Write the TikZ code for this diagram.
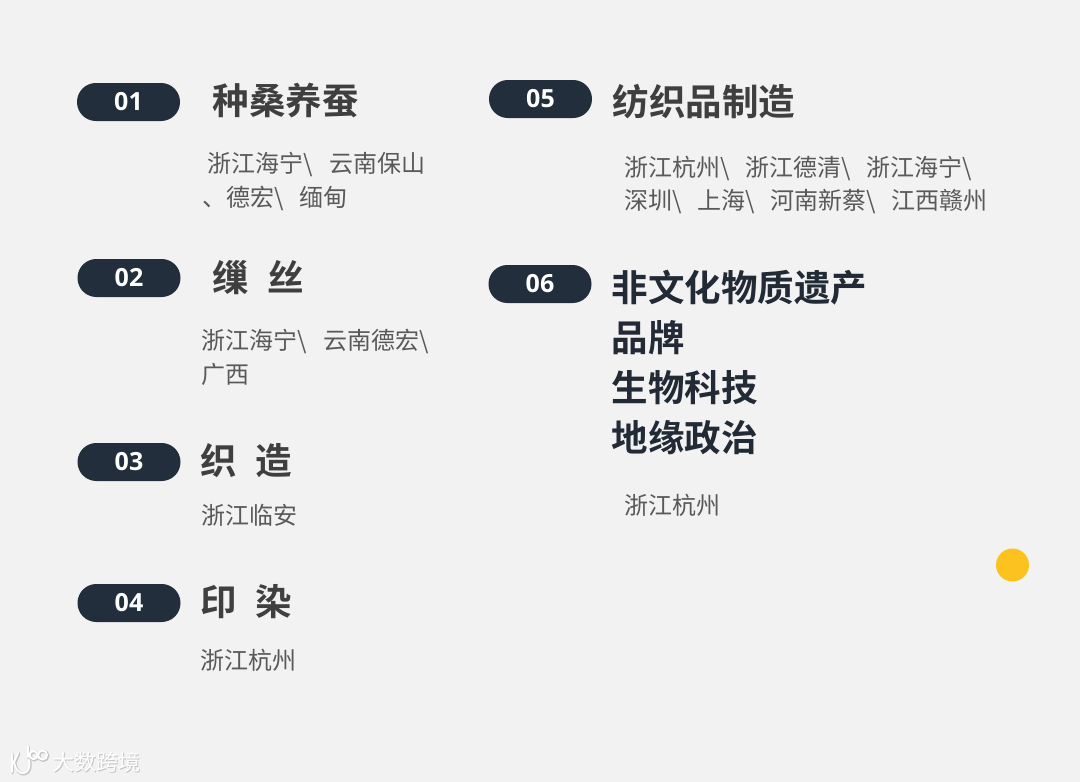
\documentclass[tikz,border=0pt]{standalone}
\usepackage{fontspec}
\setmainfont{Noto Sans CJK SC}
\newfontfamily\cjkb{Noto Sans CJK SC Bold}
\newfontfamily\numf{Open Sans Bold}
\definecolor{bgc}{HTML}{F2F2F2}
\definecolor{pillc}{HTML}{222E3B}
\definecolor{headc}{HTML}{3F3F3F}
\definecolor{headd}{HTML}{222A35}
\definecolor{bodyc}{HTML}{595959}
\definecolor{dotc}{HTML}{FCC31E}
\definecolor{wmshadow}{HTML}{C4C4C4}
\newcommand{\bs}{\textbackslash\hspace{0.66em}}
\newcommand{\bsw}{\textbackslash\hspace{0.72em}}
\tikzset{
 pill/.style={fill=pillc,rounded corners=18.9pt,minimum width=103pt,minimum height=38pt,text=white,font=\numf\fontsize{25pt}{25pt}\selectfont,inner sep=0pt},
 head/.style={anchor=west,text=headc,inner sep=0pt,font=\cjkb\fontsize{36.5pt}{36.5pt}\selectfont},
 headdark/.style={anchor=west,text=headd,inner sep=0pt,font=\cjkb\fontsize{36.5pt}{36.5pt}\selectfont},
 body/.style={anchor=west,text=bodyc,inner sep=0pt,font=\fontsize{24pt}{24pt}\selectfont},
 wmtext/.style={anchor=west,inner sep=0pt,font=\fontsize{22pt}{22pt}\selectfont},
}
\begin{document}
\begin{tikzpicture}[x=1pt,y=-1pt]
\useasboundingbox (0,0) rectangle (1080,782);
\fill[bgc] (0,0) rectangle (1080,782);
\node[pill] (p1) at (128.5,102) {01};
\node[pill] (p2) at (129,278) {02};
\node[pill] (p3) at (129,462) {03};
\node[pill] (p4) at (129,603) {04};
\node[pill] (p5) at (540.5,99) {05};
\node[pill] (p6) at (540,284) {06};
\node[head] (h1) at (212.5,101) {种桑养蚕};
\node[head] (h2) at (212.5,278) {缫\hspace{0.5em}丝};
\node[head] (h3) at (200.5,461) {织\hspace{0.5em}造};
\node[head] (h4) at (200.5,602) {印\hspace{0.5em}染};
\node[head] (h5) at (612.5,102) {纺织品制造};
\node[headdark] (h6a) at (611.5,288) {非文化物质遗产};
\node[headdark] (h6b) at (611.5,338) {品牌};
\node[headdark] (h6c) at (611.5,388) {生物科技};
\node[headdark] (h6d) at (611.5,438) {地缘政治};
\node[body] (b1a) at (207,165) {浙江海宁\bsw 云南保山};
\node[body] (b1b) at (202,198) {、德宏\textbackslash\hspace{0.66em}缅甸};
\node[body] (b2a) at (201,341.5) {浙江海宁\bsw 云南德宏\textbackslash};
\node[body] (b2b) at (201,374) {广西};
\node[body] (b3) at (201,515) {浙江临安};
\node[body] (b4) at (200,660) {浙江杭州};
\node[body] (b5a) at (624,168.5) {浙江杭州\bs 浙江德清\bs 浙江海宁\textbackslash};
\node[body] (b5b) at (624,201.5) {深圳\bs 上海\bs 河南新蔡\bs 江西赣州};
\node[body] (b6) at (624,505) {浙江杭州};
\fill[dotc] (1012.5,565) circle (16.5);
% watermark logo, shadow then white
\foreach \dx/\col/\ww in {0.8/wmshadow/3.2,0/white/2}{
 \begin{scope}[xshift=\dx pt,yshift=-\dx pt,line width=\ww pt,line cap=round,draw=\col]
 \draw (12,754) -- (12,772);
 \draw (18,753) -- (14,762) .. controls (15,770) and (20,774) .. (24,773) .. controls (29,772) and (30,766) .. (29,760);
 \draw (28,746) -- (28,757);
 \draw (33.5,755) circle (4);
 \draw (42.5,755) circle (4.5);
 \end{scope}
}
\node[wmtext,text=wmshadow] (wms) at (52.8,762.8) {大数跨境};
\node[wmtext,text=white] (wm) at (52,762) {大数跨境};
\end{tikzpicture}
\end{document}
